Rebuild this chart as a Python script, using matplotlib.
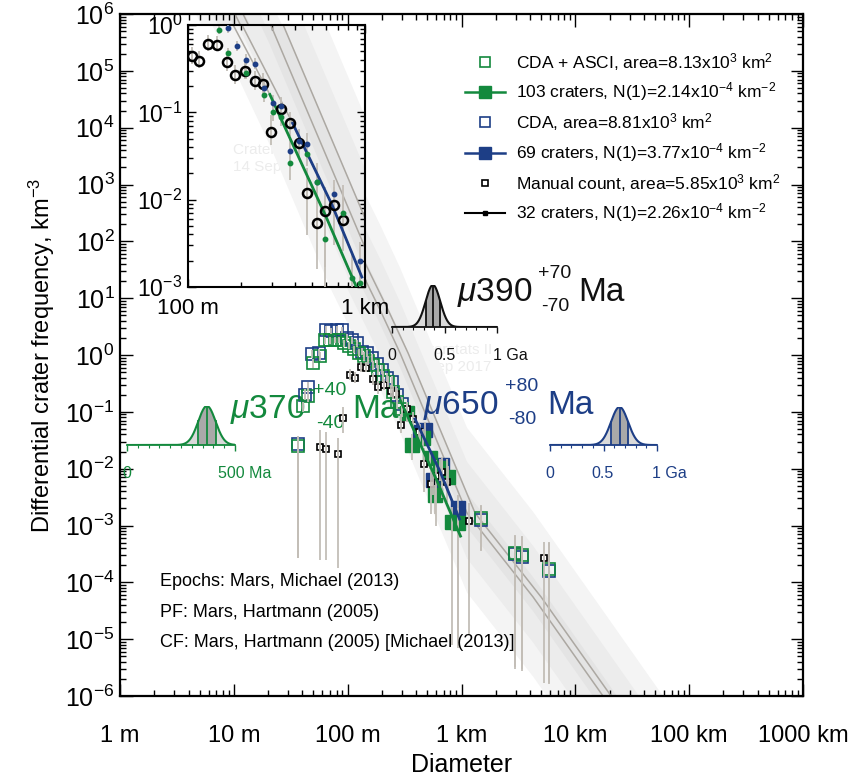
import numpy as np
import matplotlib
matplotlib.use("Agg")
import matplotlib.pyplot as plt
import matplotlib.transforms as mtransforms
from matplotlib.lines import Line2D
from matplotlib.ticker import (FixedLocator, FixedFormatter, LogLocator,
                               NullFormatter, LogFormatterSciNotation, MultipleLocator)

plt.rcParams['font.family'] = ['Liberation Sans', 'DejaVu Sans']
plt.rcParams['mathtext.fontset'] = 'custom'
plt.rcParams['mathtext.rm'] = 'Liberation Sans'
plt.rcParams['mathtext.it'] = 'Liberation Sans:italic'
plt.rcParams['mathtext.bf'] = 'Liberation Sans:bold'
plt.rcParams['mathtext.sf'] = 'Liberation Sans'

# ---------------- data (D in km, differential frequency in km^-3) ----------------
x_tick_vals = [1e-3, 1e-2, 1e-1, 1, 10, 100, 1000]
x_tick_labels = ['1 m', '10 m', '100 m', '1 km', '10 km', '100 km', '1000 km']

# reference isochron curves (grey lines) and epoch bands
ref_D1 = [0.003, 0.01024, 0.1927, 0.2888, 1.12, 4.26, 17.5, 100.0]
ref_D2 = [0.00353, 0.01204, 0.2266, 0.3396, 1.317, 5.01, 20.6, 117.6]
ref_f = [1.5e8, 1e6, 6.2, 1.08, 1.65e-3, 5.5e-5, 1e-6, 7e-9]
band_lo = [-1.4, -0.8, -0.25]
band_hi = [1.5, 0.9, 0.35]
band_colors = ['#f4f4f4', '#ececec', '#e4e4e4']

# CDA + ASCI (green open squares)
D_ca = [0.0369, 0.0408, 0.0452, 0.050, 0.057, 0.063, 0.070, 0.077, 0.084, 0.093, 0.103, 0.113, 0.125,
        0.138, 0.152, 0.168, 0.185, 0.204, 0.225, 0.248, 0.273, 0.302, 1.49, 2.96, 3.40, 5.90]
f_ca = [0.025, 0.126, 0.19, 0.71, 0.95, 1.8, 1.8, 1.85, 1.85, 1.6, 1.45, 1.25, 1.1,
        0.95, 0.80, 0.67, 0.55, 0.42, 0.34, 0.22, 0.15, 0.11, 1.35e-3, 3.3e-4, 3.0e-4, 1.7e-4]
lo_ca = [2.7e-4, 0.10, 0.15, 0.6, 0.8, 1.55, 1.55, 1.6, 1.6, 1.4, 1.25, 1.08, 0.95,
         0.8, 0.67, 0.55, 0.45, 0.34, 0.27, 0.17, 0.11, 0.08, 3.7e-4, 3.2e-6, 3.0e-6, 1.7e-6]
hi_ca = [0.036, 0.15, 0.23, 0.85, 1.12, 2.1, 2.1, 2.1, 2.1, 1.85, 1.7, 1.45, 1.3,
         1.12, 0.95, 0.8, 0.67, 0.52, 0.43, 0.28, 0.2, 0.15, 2.3e-3, 6.8e-4, 6.5e-4, 5.1e-4]

# CDA (blue open squares)
D_c = [0.0369, 0.0420, 0.0452, 0.049, 0.056, 0.065, 0.072, 0.080, 0.089, 0.098, 0.109, 0.120, 0.133,
       0.147, 0.163, 0.180, 0.200, 0.220, 0.245, 0.270, 0.300, 1.49, 2.96, 3.40, 5.90]
f_c = [0.027, 0.20, 0.27, 1.05, 1.1, 2.8, 2.6, 2.8, 2.7, 2.0, 1.8, 1.6, 1.15,
       1.07, 0.88, 0.70, 0.55, 0.40, 0.34, 0.20, 0.14, 1.25e-3, 3.1e-4, 2.8e-4, 1.6e-4]
lo_c = [2.7e-4, 0.16, 0.22, 0.9, 0.95, 2.45, 2.3, 2.45, 2.4, 1.75, 1.58, 1.4, 1.0,
        0.92, 0.75, 0.6, 0.46, 0.33, 0.27, 0.15, 0.10, 3.5e-4, 3.0e-6, 2.8e-6, 1.6e-6]
hi_c = [0.038, 0.25, 0.33, 1.22, 1.28, 3.2, 3.0, 3.2, 3.1, 2.3, 2.05, 1.82, 1.33,
        1.24, 1.03, 0.82, 0.66, 0.48, 0.42, 0.26, 0.18, 2.2e-3, 6.5e-4, 6.2e-4, 5.0e-4]

# fitted bins (filled squares)
D_caf = [0.333, 0.368, 0.460, 0.530, 0.586, 0.649, 0.762, 0.826, 0.933]
f_caf = [0.095, 0.026, 0.035, 0.0154, 0.0034, 0.0102, 0.0071, 0.00115, 0.0011]
lo_caf = [0.065, 0.014, 0.024, 0.010, 0.0016, 0.006, 0.0038, 8e-6, 7e-6]
hi_caf = [0.13, 0.04, 0.05, 0.022, 0.0052, 0.015, 0.011, 0.0021, 0.002]
D_cf = [0.433, 0.479, 0.563, 0.676, 0.933]
f_cf = [0.044, 0.048, 0.0063, 0.0115, 0.0020]
lo_cf = [0.028, 0.032, 0.0035, 0.007, 1e-5]
hi_cf = [0.06, 0.065, 0.009, 0.016, 0.0035]

# manual count (small black squares)
D_m = [0.057, 0.065, 0.082, 0.091, 0.105, 0.116, 0.130, 0.145, 0.167, 0.185, 0.210, 0.238, 0.265,
       0.295, 0.335, 0.377, 0.424, 0.470, 0.535, 0.594, 0.668, 0.751, 1.17, 5.3]
f_m = [0.024, 0.022, 0.018, 0.078, 0.44, 0.39, 0.61, 0.59, 0.38, 0.27, 0.30, 0.23, 0.21,
       0.059, 0.11, 0.075, 0.044, 0.012, 0.0054, 0.0074, 0.0087, 0.0059, 0.0012, 2.7e-4]
lo_m = [2.5e-4, 2.5e-4, 1.8e-4, 0.042, 0.36, 0.32, 0.5, 0.5, 0.3, 0.21, 0.24, 0.18, 0.16,
        0.042, 0.082, 0.053, 0.03, 0.0039, 0.0016, 0.001, 0.003, 0.0026, 1.2e-5, 1.7e-6]
hi_m = [0.048, 0.044, 0.035, 0.12, 0.56, 0.5, 0.76, 0.74, 0.48, 0.35, 0.38, 0.3, 0.28,
        0.093, 0.15, 0.1, 0.064, 0.023, 0.011, 0.014, 0.014, 0.0147, 2.5e-3, 5.1e-4]

# fitted isochrons (full curve grey, fit range coloured)
iso_g_D = [0.1, 0.18, 0.29, 0.6, 0.98]
iso_g_f = [8.8, 1.0, 0.16, 0.0065, 6.5e-4]
iso_b_D = [0.1, 0.202, 0.39, 0.65, 0.96]
iso_b_f = [14.5, 1.0, 0.075, 0.0088, 1.3e-3]
fit_g_range = (0.29, 0.98)
fit_b_range = (0.39, 0.96)

# inset points
Di_g = [0.150, 0.168, 0.213, 0.269, 0.302, 0.335, 0.377, 0.470, 0.535, 0.594, 0.751, 0.845, 0.937]
fi_g = [0.88, 0.48, 0.28, 0.158, 0.10, 0.088, 0.026, 0.033, 0.016, 0.0035, 0.0070, 0.00126, 0.0011]
loi_g = [0.78, 0.42, 0.24, 0.13, 0.08, 0.07, 0.017, 0.024, 0.011, 0.0017, 0.0045, 0.001, 0.001]
hii_g = [0.98, 0.55, 0.32, 0.19, 0.12, 0.11, 0.039, 0.045, 0.023, 0.007, 0.011, 0.0025, 0.002]
Di_b = [0.168, 0.189, 0.213, 0.239, 0.269, 0.302, 0.335, 0.377, 0.424, 0.470, 0.535, 0.668, 0.937]
fi_b = [0.92, 0.57, 0.40, 0.36, 0.19, 0.128, 0.118, 0.036, 0.047, 0.043, 0.016, 0.0116, 0.0020]
loi_b = [0.82, 0.5, 0.35, 0.31, 0.16, 0.1, 0.095, 0.024, 0.033, 0.03, 0.009, 0.0075, 0.0012]
hii_b = [1.02, 0.65, 0.46, 0.42, 0.23, 0.16, 0.145, 0.05, 0.063, 0.058, 0.026, 0.017, 0.0033]

# model ages: (mu, sigma, axis max)
age_black = (0.39, 0.07, 1.0)
age_green = (370.0, 40.0, 500.0)
age_blue = (0.65, 0.08, 1.0)

legend_labels = [r'CDA + ASCI, area=8.13x10$^{3}$ km$^{2}$',
                 r'103 craters, N(1)=2.14x10$^{-4}$ km$^{-2}$',
                 r'CDA, area=8.81x10$^{3}$ km$^{2}$',
                 r'69 craters, N(1)=3.77x10$^{-4}$ km$^{-2}$',
                 r'Manual count, area=5.85x10$^{3}$ km$^{2}$',
                 r'32 craters, N(1)=2.26x10$^{-4}$ km$^{-2}$']

GREEN = '#13893d'
BLUE = '#1d3e86'
GREYL = '#aca8a2'
ERR = '#c3beb7'

W, H = 856, 784
fig = plt.figure(figsize=(W / 100, H / 100), dpi=100)
PX = mtransforms.Affine2D().scale(1 / W, -1 / H).translate(0, 1) + fig.transFigure


def box(x0, y0, x1, y1):
    return [x0 / W, 1 - y1 / H, (x1 - x0) / W, (y1 - y0) / H]


def style(a, maj, mnr, lw=1.6):
    a.tick_params(which='both', direction='in', top=True, right=True, width=1.0, colors='black')
    a.tick_params(which='major', length=maj)
    a.tick_params(which='minor', length=mnr)
    for s in a.spines.values():
        s.set_linewidth(lw)


def draw_reference(a):
    for lo, hi, c in zip(band_lo, band_hi, band_colors):
        a.fill_between(ref_D1, [v * 10 ** lo for v in ref_f], [v * 10 ** hi for v in ref_f],
                       color=c, lw=0, zorder=1)
    a.plot(ref_D1, ref_f, color=GREYL, lw=1.1, zorder=2)
    a.plot(ref_D2, ref_f, color=GREYL, lw=1.1, zorder=2)


def in_range(D, f, r):
    pts = [(d, v) for d, v in zip(D, f) if r[0] - 1e-9 <= d <= r[1] + 1e-9]
    return [p[0] for p in pts], [p[1] for p in pts]


# ---------------- main axes ----------------
ax = fig.add_axes(box(120, 14, 803, 696))
ax.set_xscale('log')
ax.set_yscale('log')
ax.set_xlim(1e-3, 1e3)
ax.set_ylim(1e-6, 1e6)
ax.xaxis.set_major_locator(FixedLocator(x_tick_vals))
ax.xaxis.set_major_formatter(FixedFormatter(x_tick_labels))
ax.xaxis.set_minor_locator(LogLocator(base=10, subs=np.arange(2, 10), numticks=100))
ax.xaxis.set_minor_formatter(NullFormatter())
ax.yaxis.set_major_locator(LogLocator(base=10, numticks=40))
ax.yaxis.set_major_formatter(LogFormatterSciNotation())
ax.yaxis.set_minor_locator(LogLocator(base=10, subs=np.arange(2, 10), numticks=200))
ax.yaxis.set_minor_formatter(NullFormatter())
style(ax, 9, 4.5)
ax.tick_params(axis='x', which='major', labelsize=17, pad=21)
ax.tick_params(axis='y', which='major', labelsize=18, pad=4)
ax.set_xlabel('Diameter', fontsize=18, labelpad=4)
ax.set_ylabel(r'Differential crater frequency, km$^{-3}$', fontsize=17, labelpad=6)

ax.text(405, 343, 'Craterstats II\n14 Sep 2017', transform=PX, fontsize=11, color='#ececec',
        va='top', ha='left', zorder=0.5, linespacing=1.3)
draw_reference(ax)

ms_open, ms_fill = 8.5, 10
ax.plot(D_c, f_c, 's', ms=ms_open, mfc='none', mec=BLUE, mew=1.2, zorder=3)
ax.plot(D_ca, f_ca, 's', ms=ms_open, mfc='none', mec=GREEN, mew=1.2, zorder=3.1)
ax.plot(D_cf, f_cf, 's', ms=ms_fill, mfc=BLUE, mec=BLUE, zorder=3.2)
ax.plot(D_caf, f_caf, 's', ms=ms_fill, mfc=GREEN, mec=GREEN, zorder=3.3)
ax.plot(D_m, f_m, 's', ms=4, mfc='white', mec='black', mew=1.2, zorder=3.4)
for D, lo, hi in [(D_c, lo_c, hi_c), (D_ca, lo_ca, hi_ca), (D_cf, lo_cf, hi_cf),
                  (D_caf, lo_caf, hi_caf), (D_m, lo_m, hi_m)]:
    ax.vlines(D, lo, hi, color=ERR, lw=1.3, zorder=4)
gx, gy = in_range(iso_g_D, iso_g_f, fit_g_range)
bx, by = in_range(iso_b_D, iso_b_f, fit_b_range)
ax.plot(bx, by, color=BLUE, lw=2.0, zorder=5)
ax.plot(gx, gy, color=GREEN, lw=2.0, zorder=5.1)

# notes
for y, s in zip([582, 613, 643], ['Epochs: Mars, Michael (2013)', 'PF: Mars, Hartmann (2005)',
                                  'CF: Mars, Hartmann (2005) [Michael (2013)]']):
    ax.text(160, y, s, transform=PX, fontsize=13, va='center', ha='left', zorder=6)

# legend (manual)
rows = [62, 92, 122, 153, 183, 213]
handles = [dict(ls='none', marker='s', ms=7, mfc='none', mec=GREEN, mew=1.2),
           dict(ls='-', color=GREEN, lw=1.8, marker='s', ms=9, mfc=GREEN, mec=GREEN),
           dict(ls='none', marker='s', ms=7, mfc='none', mec=BLUE, mew=1.2),
           dict(ls='-', color=BLUE, lw=1.8, marker='s', ms=9, mfc=BLUE, mec=BLUE),
           dict(ls='none', marker='s', ms=4, mfc='white', mec='black', mew=1.2),
           dict(ls='-', color='black', lw=1.5, marker='s', ms=3, mfc='black', mec='black')]
for y, h, lab in zip(rows, handles, legend_labels):
    if h['ls'] == '-':
        fig.add_artist(Line2D([465, 505], [y, y], transform=PX, color=h['color'], lw=h['lw']))
        fig.add_artist(Line2D([485], [y], transform=PX, ls='none', marker='s', ms=h['ms'],
                              mfc=h['mfc'], mec=h['mec']))
    else:
        fig.add_artist(Line2D([485], [y], transform=PX, ls='none', marker='s', ms=h['ms'],
                              mfc=h['mfc'], mec=h['mec'], mew=h['mew']))
    fig.text(516 / W, 1 - y / H, lab, fontsize=12.5, va='center', ha='left')


# big age labels
def age_label(x, yb, main, sup, sub, sx, ssx, color):
    ax.text(x, yb, main, transform=PX, fontsize=24, color=color, va='baseline', ha='left', zorder=2.5)
    ax.text(sx, yb - 23, sup, transform=PX, fontsize=14, color=color, va='baseline', ha='left', zorder=2.5)
    ax.text(sx + 3, yb + 10, sub, transform=PX, fontsize=14, color=color, va='baseline', ha='left', zorder=2.5)
    ax.text(ssx, yb, 'Ma', transform=PX, fontsize=24, color=color, va='baseline', ha='left', zorder=2.5)


age_label(457, 301, r'$\mu$390', '+70', '-70', 538, 578, '#111111')
age_label(230, 418, r'$\mu$370', '+40', '-40', 313, 352, GREEN)
age_label(423, 414, r'$\mu$650', '+80', '-80', 505, 547, BLUE)

# ---------------- inset ----------------
axi = fig.add_axes(box(188, 25, 365, 287))
axi.set_xscale('log')
axi.set_yscale('log')
axi.set_xlim(0.1, 1)
axi.set_ylim(1e-3, 1)
axi.xaxis.set_major_locator(FixedLocator([0.1, 1]))
axi.xaxis.set_major_formatter(FixedFormatter(['100 m', '1 km']))
axi.xaxis.set_minor_locator(LogLocator(base=10, subs=np.arange(2, 10), numticks=100))
axi.xaxis.set_minor_formatter(NullFormatter())
axi.yaxis.set_major_locator(LogLocator(base=10, numticks=20))
axi.yaxis.set_major_formatter(LogFormatterSciNotation())
axi.yaxis.set_minor_locator(LogLocator(base=10, subs=np.arange(2, 10), numticks=100))
axi.yaxis.set_minor_formatter(NullFormatter())
style(axi, 6, 3.5, lw=1.5)
axi.tick_params(axis='x', which='major', labelsize=16, pad=8)
axi.tick_params(axis='y', which='major', labelsize=16.5, pad=4)
axi.text(233, 143, 'Craterstats II\n14 Sep 2017', transform=PX, fontsize=11, color='#ececec',
         va='top', ha='left', zorder=0.5, linespacing=1.3)
draw_reference(axi)
axi.plot(iso_g_D, iso_g_f, color=GREYL, lw=1.1, zorder=2)
axi.plot(iso_b_D, iso_b_f, color=GREYL, lw=1.1, zorder=2)
axi.vlines(D_m, lo_m, hi_m, color=ERR, lw=1.3, zorder=3)
axi.vlines(Di_g, loi_g, hii_g, color=ERR, lw=1.3, zorder=3)
axi.vlines(Di_b, loi_b, hii_b, color=ERR, lw=1.3, zorder=3)
axi.plot(bx, by, color=BLUE, lw=2.0, zorder=4)
axi.plot(gx, gy, color=GREEN, lw=2.0, zorder=4.1)
axi.plot(D_m, f_m, 'o', ms=6.5, mfc='none', mec='black', mew=1.8, zorder=5)
axi.plot(Di_b, fi_b, 'o', ms=3.2, mfc=BLUE, mec=BLUE, zorder=5)
axi.plot(Di_g, fi_g, 'o', ms=3.2, mfc=GREEN, mec=GREEN, zorder=5)


# ---------------- age distributions ----------------
def mini(px0, px1, base, peak, age, color, major, minor_step, labels):
    mu, sig, amax = age
    a = fig.add_axes(box(px0, peak, px1, base))
    a.patch.set_alpha(0)
    t = np.linspace(0, amax, 600)
    pdf = np.exp(-0.5 * ((t - mu) / sig) ** 2)
    a.fill_between(t, 0, pdf, color='#dadada', lw=0)
    m = (t >= mu - sig) & (t <= mu + sig)
    a.fill_between(t[m], 0, pdf[m], color='#a9a9a9', lw=0)
    for v in (mu - sig, mu, mu + sig):
        a.plot([v, v], [0, np.exp(-0.5 * ((v - mu) / sig) ** 2)], color=color, lw=1.3)
    a.plot(t, pdf, color=color, lw=1.5)
    a.set_xlim(0, amax)
    a.set_ylim(0, 1.0)
    for s in ['top', 'right', 'left']:
        a.spines[s].set_visible(False)
    a.spines['bottom'].set_color(color)
    a.spines['bottom'].set_linewidth(1.3)
    a.set_yticks([])
    a.xaxis.set_major_locator(FixedLocator(major))
    a.xaxis.set_minor_locator(MultipleLocator(minor_step))
    a.tick_params(axis='x', which='major', direction='out', length=4, width=1, color=color, labelbottom=False)
    a.tick_params(axis='x', which='minor', direction='out', length=2, width=0.8, color=color)
    for (x, y, s, ha) in labels:
        fig.text(x / W, 1 - y / H, s, color=color, fontsize=11.5, ha=ha, va='center')


mini(392, 497, 327, 285, age_black, '#111111', [0, 0.5, 1.0], 0.1,
     [(392, 355, '0', 'center'), (445, 355, '0.5', 'center'), (493, 355, '1 Ga', 'left')])
mini(127, 235, 445, 406, age_green, GREEN, [0, 500], 50,
     [(127, 473, '0', 'center'), (218, 473, '500 Ma', 'left')])
mini(550, 657, 445, 407, age_blue, BLUE, [0, 0.5, 1.0], 0.1,
     [(550, 473, '0', 'center'), (603, 473, '0.5', 'center'), (652, 473, '1 Ga', 'left')])

fig.savefig('out.png', dpi=100)
